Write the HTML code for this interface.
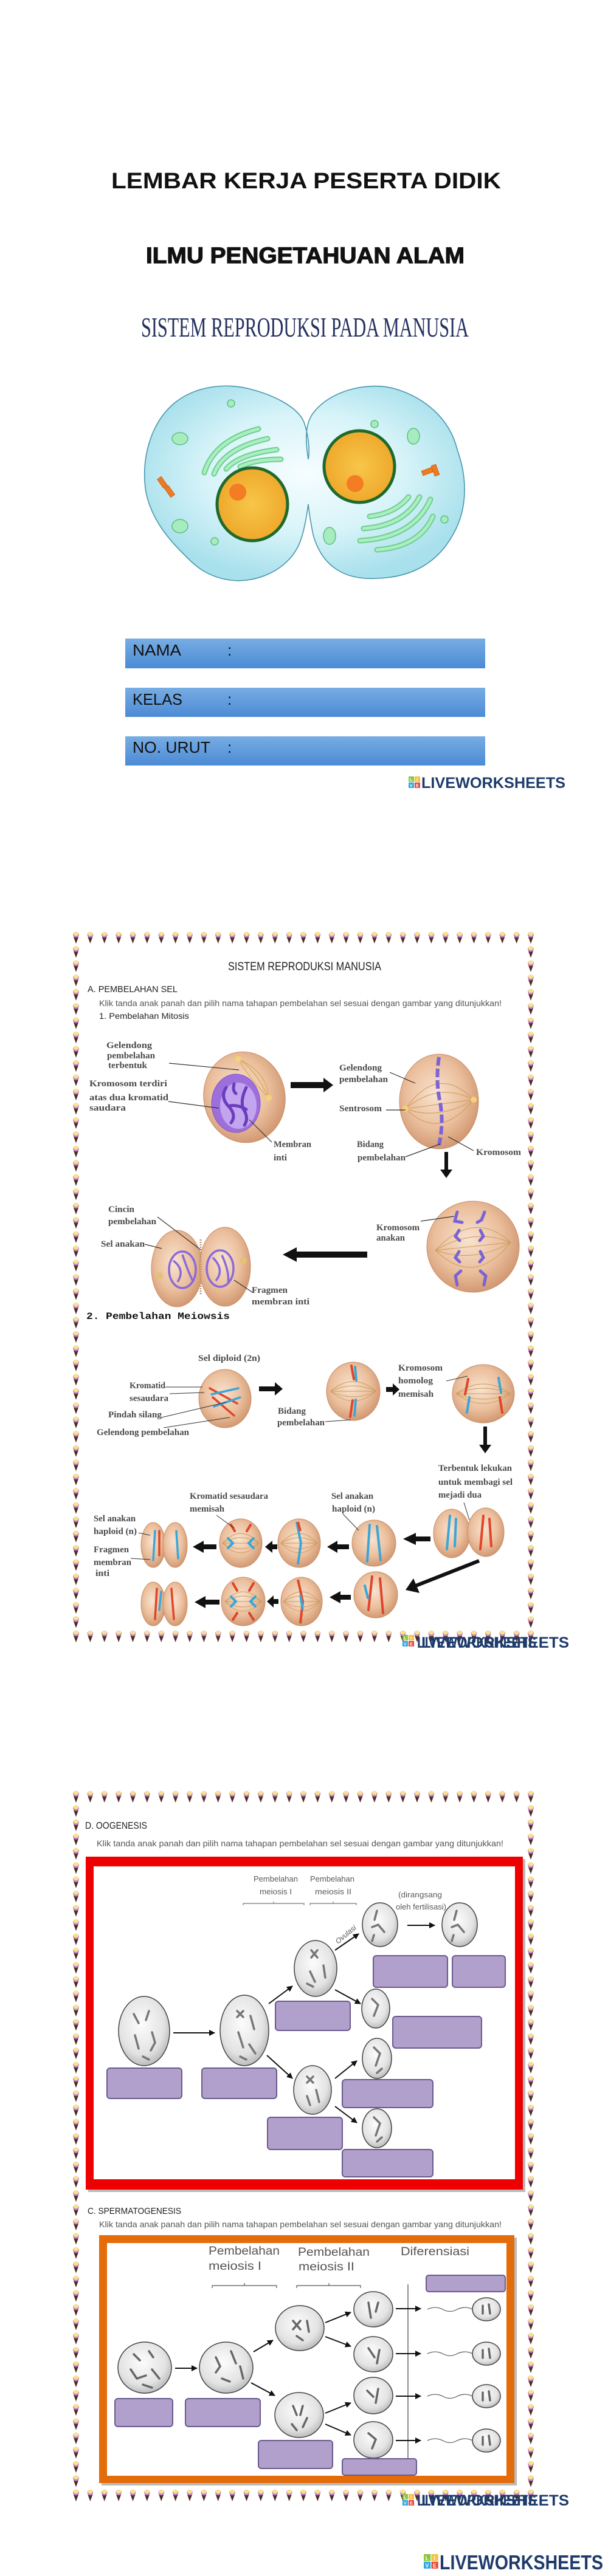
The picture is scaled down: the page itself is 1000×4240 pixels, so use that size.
<!DOCTYPE html>
<html><head><meta charset="utf-8"><style>
html,body{margin:0;padding:0;background:#fff;}
svg{display:block;}
text{font-family:"Liberation Sans",sans-serif;}
.sf{font-family:"Liberation Serif",serif;fill:#4a4a4a;font-weight:bold;font-size:15px;}
.og{font-family:"Liberation Sans",sans-serif;fill:#5a5a5a;font-size:13px;}
.ins{font-family:"Liberation Sans",sans-serif;fill:#555;font-size:14px;}
</style></head><body>
<svg width="1000" height="4240" viewBox="0 0 1000 4240" xmlns="http://www.w3.org/2000/svg">
<defs>
 <radialGradient id="cb" cx="50%" cy="45%" r="55%"><stop offset="0" stop-color="#f6fdff"/><stop offset="0.55" stop-color="#d8f4f9"/><stop offset="1" stop-color="#a8e0ec"/></radialGradient>
 <radialGradient id="nuc" cx="50%" cy="50%" r="50%"><stop offset="0" stop-color="#f8c64a"/><stop offset="1" stop-color="#eea92c"/></radialGradient>
 <linearGradient id="bx" x1="0" y1="0" x2="0" y2="1"><stop offset="0" stop-color="#78ade3"/><stop offset="1" stop-color="#4b8ad5"/></linearGradient>
 <radialGradient id="tan" cx="45%" cy="42%" r="60%"><stop offset="0" stop-color="#f8e3d0"/><stop offset="0.6" stop-color="#ebbf9d"/><stop offset="1" stop-color="#d09670"/></radialGradient>
 <radialGradient id="gr" cx="45%" cy="40%" r="62%"><stop offset="0" stop-color="#fcfcfc"/><stop offset="0.7" stop-color="#e3e3e3"/><stop offset="1" stop-color="#b9b9b9"/></radialGradient>
 <g id="cone"><path d="M1 9 L9 9 L5 20 Z" fill="#4b2a28"/><circle cx="5" cy="5.6" r="4.8" fill="#c77bc4"/><ellipse cx="5" cy="4.2" rx="4" ry="3.4" fill="#f4e58a"/></g>
 <pattern id="pH" patternUnits="userSpaceOnUse" width="23.375" height="1150"><use href="#cone"/></pattern>
 <pattern id="pV" patternUnits="userSpaceOnUse" width="748" height="23.47"><use href="#cone"/></pattern>
 <marker id="ma" viewBox="0 0 10 10" refX="9" refY="5" markerWidth="5" markerHeight="5" orient="auto"><path d="M0 0 L10 5 L0 10 z" fill="#111"/></marker>
 <g id="lwi">
  <rect x="0" y="0" width="9" height="9" fill="#8cc63f"/><rect x="10" y="0" width="9" height="9" fill="#f5c242"/>
  <rect x="0" y="10" width="9" height="9" fill="#2aa8e0"/><rect x="10" y="10" width="9" height="9" fill="#e8473f"/>
  <text x="2" y="7.5" font-size="7" fill="#fff" font-weight="bold">L</text><text x="13" y="7.5" font-size="7" fill="#fff" font-weight="bold">I</text>
  <text x="2" y="17.5" font-size="7" fill="#fff" font-weight="bold">V</text><text x="12" y="17.5" font-size="7" fill="#fff" font-weight="bold">E</text>
 </g>
 <g id="spin" fill="none" stroke="#c99c5a" stroke-width="0.9">
  <path d="M-30 0 Q0 -32 30 0"/><path d="M-30 0 Q0 -18 30 0"/><path d="M-30 0 L30 0"/><path d="M-30 0 Q0 18 30 0"/><path d="M-30 0 Q0 32 30 0"/>
 </g>
</defs>

<!-- ================= COVER ================= -->
<text x="183" y="310" font-size="37" font-weight="bold" fill="#111" textLength="641" lengthAdjust="spacingAndGlyphs">LEMBAR KERJA PESERTA DIDIK</text>
<text x="240" y="433" font-size="37" font-weight="bold" fill="#111" stroke="#111" stroke-width="1.2" textLength="524" lengthAdjust="spacingAndGlyphs">ILMU PENGETAHUAN ALAM</text>
<text x="232" y="554" font-size="46" fill="#25315f" style="font-family:'Liberation Serif',serif" textLength="539" lengthAdjust="spacingAndGlyphs">SISTEM REPRODUKSI PADA MANUSIA</text>

<!-- cell -->
<path d="M507 756 C503 730 500 700 515 680 C545 640 610 628 650 640 C700 655 740 690 752 740 C770 790 768 840 745 880 C720 925 680 950 620 952 C570 955 530 935 515 880 C510 855 508 840 507 830 C505 845 500 880 490 900 C470 940 420 960 380 955 C340 950 320 930 305 915 C285 895 250 860 240 810 C232 760 245 700 285 665 C320 635 370 630 410 640 C450 650 490 670 500 695 C507 715 510 740 507 756 Z" fill="url(#cb)" stroke="#4a97ae" stroke-width="1.6"/>
<g fill="none" stroke-linecap="round">
 <g stroke="#6fcf8f" stroke-width="9">
  <path d="M336 778 Q352 725 425 706"/><path d="M352 780 Q368 738 440 722"/><path d="M372 772 Q392 748 455 740"/><path d="M395 768 Q420 756 462 756"/>
  <path d="M592 890 Q680 885 708 822"/><path d="M598 870 Q665 865 690 818"/><path d="M608 850 Q650 845 672 818"/><path d="M620 905 Q690 900 712 850"/>
 </g>
 <g stroke="#aaeec2" stroke-width="5">
  <path d="M336 778 Q352 725 425 706"/><path d="M352 780 Q368 738 440 722"/><path d="M372 772 Q392 748 455 740"/><path d="M395 768 Q420 756 462 756"/>
  <path d="M592 890 Q680 885 708 822"/><path d="M598 870 Q665 865 690 818"/><path d="M608 850 Q650 845 672 818"/><path d="M620 905 Q690 900 712 850"/>
 </g>
</g>
<g fill="#a6ecbf" stroke="#5fbf7f" stroke-width="1.5">
 <ellipse cx="296" cy="722" rx="13" ry="10"/><ellipse cx="296" cy="866" rx="13" ry="11"/><ellipse cx="542" cy="882" rx="10" ry="14"/><ellipse cx="680" cy="718" rx="10" ry="13"/>
 <circle cx="353" cy="891" r="6"/><circle cx="731" cy="855" r="6"/><circle cx="380" cy="664" r="6"/><circle cx="616" cy="698" r="6"/>
</g>
<ellipse cx="415" cy="830" rx="58" ry="60" fill="url(#nuc)" stroke="#1e6a2c" stroke-width="5"/>
<circle cx="391" cy="810" r="14" fill="#f47c22"/>
<ellipse cx="591" cy="768" rx="58" ry="59" fill="url(#nuc)" stroke="#1e6a2c" stroke-width="5"/>
<circle cx="584" cy="796" r="14" fill="#f47c22"/>
<g fill="#ee7a22" stroke="#c85a10" stroke-width="0.8">
 <rect x="263" y="785" width="8" height="18" transform="rotate(-35 267 794)"/><rect x="275" y="800" width="8" height="18" transform="rotate(-35 279 809)"/>
 <rect x="694" y="772" width="18" height="8" transform="rotate(-20 703 776)"/><rect x="712" y="765" width="8" height="18" transform="rotate(-20 716 774)"/>
</g>

<!-- name boxes -->
<rect x="206" y="1051" width="592" height="49" fill="url(#bx)"/>
<rect x="206" y="1132" width="592" height="48" fill="url(#bx)"/>
<rect x="206" y="1212" width="592" height="48" fill="url(#bx)"/>
<g font-size="26" fill="#111">
 <text x="218" y="1079" textLength="80" lengthAdjust="spacingAndGlyphs">NAMA</text><text x="374" y="1079">:</text>
 <text x="218" y="1160" textLength="82" lengthAdjust="spacingAndGlyphs">KELAS</text><text x="374" y="1160">:</text>
 <text x="218" y="1239" textLength="128" lengthAdjust="spacingAndGlyphs">NO. URUT</text><text x="374" y="1239">:</text>
</g>
<use href="#lwi" x="672" y="1278"/>
<text x="693" y="1297" font-size="25" font-weight="bold" fill="#1e3b6b" textLength="237" lengthAdjust="spacingAndGlyphs">LIVEWORKSHEETS</text>

<!-- ================= PAGE 2 ================= -->
<g transform="translate(120,1533)">
 <rect x="0" y="0" width="760" height="1172" fill="url(#pH)"/>
 <rect x="0" y="0" width="760" height="1172" fill="url(#pV)"/>
</g>
<text x="375" y="1597" font-size="19" fill="#222" textLength="252" lengthAdjust="spacingAndGlyphs">SISTEM REPRODUKSI MANUSIA</text>
<text x="144" y="1633" font-size="15" fill="#222" textLength="148" lengthAdjust="spacingAndGlyphs">A. PEMBELAHAN SEL</text>
<text x="163" y="1656" class="ins" textLength="662" lengthAdjust="spacingAndGlyphs">Klik tanda anak panah dan pilih nama tahapan pembelahan sel sesuai dengan gambar yang ditunjukkan!</text>
<text x="163" y="1677" font-size="14" fill="#222" textLength="148" lengthAdjust="spacingAndGlyphs">1.  Pembelahan Mitosis</text>

<!-- mitosis cell 1 -->
<ellipse cx="402" cy="1806" rx="67" ry="75" transform="rotate(-10 402 1806)" fill="url(#tan)" stroke="#c98f68"/>
<g fill="none" stroke="#d9a851" stroke-width="1.2"><path d="M392 1743 Q420 1760 442 1807"/><path d="M392 1743 Q440 1765 442 1807"/><path d="M392 1743 Q410 1775 442 1807"/></g>
<circle cx="392" cy="1743" r="5" fill="#f3d27a"/><circle cx="442" cy="1807" r="5" fill="#f3d27a"/>
<ellipse cx="388" cy="1816" rx="40" ry="48" fill="#9d6fdc" stroke="#8056c7"/>
<ellipse cx="392" cy="1820" rx="30" ry="38" fill="#c3a4ee"/>
<g fill="none" stroke="#6a3dbe" stroke-width="5" stroke-linecap="round"><path d="M372 1790 Q362 1805 375 1820 Q390 1835 380 1848"/><path d="M405 1790 Q395 1810 400 1825 Q410 1840 402 1852"/><path d="M378 1820 Q392 1818 405 1826"/><path d="M385 1784 Q382 1795 388 1800"/></g>
<g stroke="#333" stroke-width="1.2"><line x1="278" y1="1750" x2="393" y2="1761"/><line x1="277" y1="1813" x2="360" y2="1824"/><line x1="410" y1="1843" x2="447" y2="1880"/></g>
<text class="sf" x="175" y="1725" textLength="75" lengthAdjust="spacingAndGlyphs">Gelendong</text>
<text class="sf" x="176" y="1742" textLength="79" lengthAdjust="spacingAndGlyphs">pembelahan</text>
<text class="sf" x="178" y="1758" textLength="64" lengthAdjust="spacingAndGlyphs">terbentuk</text>
<text class="sf" x="147" y="1788" textLength="128" lengthAdjust="spacingAndGlyphs">Kromosom  terdiri</text>
<text class="sf" x="147" y="1811" textLength="130" lengthAdjust="spacingAndGlyphs">atas  dua kromatid</text>
<text class="sf" x="147" y="1828" textLength="60" lengthAdjust="spacingAndGlyphs">saudara</text>
<text class="sf" x="450" y="1888" textLength="62" lengthAdjust="spacingAndGlyphs">Membran</text>
<text class="sf" x="450" y="1910" textLength="22" lengthAdjust="spacingAndGlyphs">inti</text>
<polygon points="478,1781 532,1781 532,1774 548,1786 532,1798 532,1791 478,1791" fill="#111"/>

<!-- mitosis cell 2 -->
<ellipse cx="722" cy="1813" rx="65" ry="78" fill="url(#tan)" stroke="#c98f68"/>
<g fill="none" stroke="#c99c5a" stroke-width="1"><path d="M667 1825 Q720 1750 779 1810"/><path d="M667 1825 Q720 1780 779 1810"/><path d="M667 1825 L779 1810"/><path d="M667 1825 Q722 1845 779 1810"/><path d="M667 1825 Q722 1880 779 1810"/></g>
<circle cx="667" cy="1825" r="5" fill="#f3d27a"/><circle cx="779" cy="1810" r="5" fill="#f3d27a"/>
<path d="M722 1740 Q716 1780 724 1815 Q730 1850 722 1885" fill="none" stroke="#7d64d6" stroke-width="6" stroke-dasharray="14 5"/>
<g stroke="#333" stroke-width="1.2"><line x1="641" y1="1765" x2="683" y2="1783"/><line x1="635" y1="1827" x2="667" y2="1827"/><line x1="667" y1="1904" x2="724" y2="1883"/><line x1="779" y1="1894" x2="737" y2="1871"/></g>
<text class="sf" x="558" y="1762" textLength="70" lengthAdjust="spacingAndGlyphs">Gelendong</text>
<text class="sf" x="558" y="1781" textLength="80" lengthAdjust="spacingAndGlyphs">pembelahan</text>
<text class="sf" x="558" y="1829" textLength="70" lengthAdjust="spacingAndGlyphs">Sentrosom</text>
<text class="sf" x="587" y="1888" textLength="44" lengthAdjust="spacingAndGlyphs">Bidang</text>
<text class="sf" x="588" y="1910" textLength="79" lengthAdjust="spacingAndGlyphs">pembelahan</text>
<text class="sf" x="783" y="1901" textLength="74" lengthAdjust="spacingAndGlyphs">Kromosom</text>
<polygon points="731,1896 737,1896 737,1925 744,1925 734,1939 724,1925 731,1925" fill="#111"/>

<!-- anaphase -->
<ellipse cx="778" cy="2052" rx="76" ry="75" fill="url(#tan)" stroke="#c98f68"/>
<g fill="none" stroke="#c99c5a" stroke-width="1"><path d="M716 2058 Q780 1990 840 2045"/><path d="M716 2058 Q780 2020 840 2045"/><path d="M716 2058 L840 2045"/><path d="M716 2058 Q780 2080 840 2045"/><path d="M716 2058 Q780 2120 840 2045"/></g>
<g fill="none" stroke="#7a63d4" stroke-width="5" stroke-linecap="round">
 <path d="M752 1995 L748 2010 L760 2012"/><path d="M797 1995 L792 2008 L785 2012"/>
 <path d="M755 2025 L749 2035 L756 2042"/><path d="M790 2025 L795 2035 L789 2042"/>
 <path d="M755 2060 L749 2070 L756 2077"/><path d="M790 2060 L795 2070 L789 2077"/>
 <path d="M758 2092 L749 2100 L752 2115"/><path d="M790 2092 L799 2100 L796 2115"/>
</g>
<line x1="692" y1="2010" x2="747" y2="2002" stroke="#333" stroke-width="1.2"/>
<text class="sf" x="619" y="2025" textLength="71" lengthAdjust="spacingAndGlyphs">Kromosom</text>
<text class="sf" x="619" y="2042" textLength="47" lengthAdjust="spacingAndGlyphs">anakan</text>
<polygon points="604,2060 488,2060 488,2053 465,2065 488,2077 488,2070 604,2070" fill="#111"/>

<!-- telophase -->
<ellipse cx="291" cy="2088" rx="42" ry="63" fill="url(#tan)" stroke="#c98f68"/>
<ellipse cx="370" cy="2085" rx="42" ry="65" fill="url(#tan)" stroke="#c98f68"/>
<line x1="330" y1="2040" x2="330" y2="2130" stroke="#c98f68" stroke-width="3" stroke-dasharray="2 2"/>
<g fill="none" stroke="#8a6ad8" stroke-width="3.5">
 <ellipse cx="300" cy="2090" rx="22" ry="30"/><ellipse cx="362" cy="2088" rx="22" ry="30"/>
 <path d="M285 2075 Q305 2090 292 2110 M300 2065 Q310 2095 318 2110 M350 2070 Q370 2090 355 2108 M365 2066 Q378 2095 375 2112"/>
</g>
<circle cx="262" cy="2100" r="6" fill="#e6c07a"/><circle cx="400" cy="2075" r="6" fill="#e6c07a"/>
<g stroke="#333" stroke-width="1.2"><line x1="259" y1="2003" x2="330" y2="2057"/><line x1="238" y1="2048" x2="266" y2="2055"/><line x1="385" y1="2107" x2="415" y2="2127"/></g>
<text class="sf" x="178" y="1995" textLength="43" lengthAdjust="spacingAndGlyphs">Cincin</text>
<text class="sf" x="178" y="2015" textLength="79" lengthAdjust="spacingAndGlyphs">pembelahan</text>
<text class="sf" x="166" y="2052" textLength="72" lengthAdjust="spacingAndGlyphs">Sel anakan</text>
<text class="sf" x="414" y="2128" textLength="59" lengthAdjust="spacingAndGlyphs">Fragmen</text>
<text class="sf" x="414" y="2147" textLength="95" lengthAdjust="spacingAndGlyphs">membran inti</text>

<text x="142" y="2171" font-size="16" font-weight="bold" fill="#111" style="font-family:'Liberation Mono',monospace" textLength="236" lengthAdjust="spacingAndGlyphs">2. Pembelahan Meiowsis</text>

<!-- meiosis row 1 -->
<ellipse cx="370" cy="2302" rx="43" ry="48" fill="url(#tan)" stroke="#c98f68"/>
<g fill="none" stroke-width="3.5" stroke-linecap="round"><path d="M345 2285 L390 2310 M350 2300 L385 2330" stroke="#e0452a"/><path d="M348 2295 L392 2285 M352 2315 L395 2300" stroke="#3aa6d8"/></g>
<ellipse cx="581" cy="2290" rx="44" ry="48" fill="url(#tan)" stroke="#c98f68"/>
<use href="#spin" transform="translate(581 2290) scale(1.25 1)"/>
<g fill="none" stroke-width="4" stroke-linecap="round"><path d="M578 2248 L582 2270 M580 2305 L576 2332" stroke="#e0452a"/><path d="M584 2250 L586 2272 M585 2304 L583 2330" stroke="#3aa6d8"/></g>
<ellipse cx="795" cy="2294" rx="51" ry="48" fill="url(#tan)" stroke="#c98f68"/>
<use href="#spin" transform="translate(795 2294) scale(1.5 1)"/>
<g fill="none" stroke-width="4" stroke-linecap="round"><path d="M770 2270 L765 2295 M822 2300 L826 2325" stroke="#e0452a"/><path d="M772 2300 L768 2325 M820 2268 L824 2292" stroke="#3aa6d8"/></g>
<polygon points="426,2282 452,2282 452,2275 465,2286 452,2297 452,2290 426,2290" fill="#111"/>
<polygon points="635,2283 646,2283 646,2277 657,2287 646,2297 646,2291 635,2291" fill="#111"/>
<polygon points="795,2348 801,2348 801,2378 808,2378 798,2392 788,2378 795,2378" fill="#111"/>
<g stroke="#333" stroke-width="1"><line x1="272" y1="2283" x2="333" y2="2283"/><line x1="279" y1="2294" x2="336" y2="2292"/><line x1="266" y1="2333" x2="372" y2="2308"/><line x1="269" y1="2350" x2="378" y2="2333"/><line x1="535" y1="2340" x2="577" y2="2337"/><line x1="734" y1="2273" x2="769" y2="2265"/><line x1="763" y1="2473" x2="772" y2="2502"/></g>
<text class="sf" x="326" y="2240" textLength="102" lengthAdjust="spacingAndGlyphs">Sel  diploid (2n)</text>
<text class="sf" x="213" y="2285" textLength="59" lengthAdjust="spacingAndGlyphs">Kromatid</text>
<text class="sf" x="213" y="2306" textLength="64" lengthAdjust="spacingAndGlyphs">sesaudara</text>
<text class="sf" x="178" y="2333" textLength="88" lengthAdjust="spacingAndGlyphs">Pindah silang</text>
<text class="sf" x="159" y="2362" textLength="152" lengthAdjust="spacingAndGlyphs">Gelendong pembelahan</text>
<text class="sf" x="457" y="2327" textLength="46" lengthAdjust="spacingAndGlyphs">Bidang</text>
<text class="sf" x="456" y="2346" textLength="78" lengthAdjust="spacingAndGlyphs">pembelahan</text>
<text class="sf" x="655" y="2256" textLength="73" lengthAdjust="spacingAndGlyphs">Kromosom</text>
<text class="sf" x="655" y="2277" textLength="57" lengthAdjust="spacingAndGlyphs">homolog</text>
<text class="sf" x="655" y="2299" textLength="58" lengthAdjust="spacingAndGlyphs">memisah</text>
<text class="sf" x="721" y="2421" textLength="121" lengthAdjust="spacingAndGlyphs">Terbentuk lekukan</text>
<text class="sf" x="721" y="2444" textLength="122" lengthAdjust="spacingAndGlyphs">untuk membagi sel</text>
<text class="sf" x="721" y="2465" textLength="71" lengthAdjust="spacingAndGlyphs">mejadi dua</text>

<!-- meiosis row 2 -->
<ellipse cx="743" cy="2524" rx="30" ry="40" fill="url(#tan)" stroke="#c98f68"/>
<ellipse cx="799" cy="2522" rx="30" ry="40" fill="url(#tan)" stroke="#c98f68"/>
<g fill="none" stroke-width="4" stroke-linecap="round"><path d="M740 2495 L735 2550 M750 2500 L748 2545" stroke="#3aa6d8"/><path d="M795 2495 L790 2550 M805 2500 L808 2545" stroke="#e0452a"/></g>
<ellipse cx="615" cy="2540" rx="36" ry="38" fill="url(#tan)" stroke="#c98f68"/>
<g fill="none" stroke-width="4" stroke-linecap="round"><path d="M608 2510 L604 2570 M620 2512 L626 2568" stroke="#3aa6d8"/></g>
<ellipse cx="492" cy="2540" rx="35" ry="40" fill="url(#tan)" stroke="#c98f68"/>
<use href="#spin" transform="translate(492 2540)"/>
<path d="M488 2505 L495 2540 L490 2575" fill="none" stroke="#3aa6d8" stroke-width="4"/><path d="M490 2505 L494 2520" stroke="#e0452a" stroke-width="4"/>
<ellipse cx="396" cy="2540" rx="35" ry="40" fill="url(#tan)" stroke="#c98f68"/>
<use href="#spin" transform="translate(396 2540)"/>
<g fill="none" stroke-width="4" stroke-linecap="round"><path d="M375 2532 L383 2540 L375 2548 M417 2532 L409 2540 L417 2548" stroke="#3aa6d8"/><path d="M380 2510 L386 2520 M412 2510 L406 2520" stroke="#e0452a"/></g>
<ellipse cx="252" cy="2543" rx="20" ry="37" fill="url(#tan)" stroke="#c98f68"/>
<ellipse cx="288" cy="2543" rx="20" ry="37" fill="url(#tan)" stroke="#c98f68"/>
<g fill="none" stroke-width="3.5" stroke-linecap="round"><path d="M255 2520 L252 2568 M290 2520 L293 2565" stroke="#3aa6d8"/><path d="M262 2520 L262 2560" stroke="#e0452a"/></g>
<g fill="#111">
 <polygon points="708,2529 684,2529 684,2523 663,2533 684,2543 684,2537 708,2537"/>
 <polygon points="574,2542 555,2542 555,2536 538,2546 555,2556 555,2550 574,2550"/>
 <polygon points="456,2542 448,2542 448,2536 436,2546 448,2556 448,2550 456,2550"/>
 <polygon points="356,2542 335,2542 335,2536 317,2546 335,2556 335,2550 356,2550"/>
</g>
<g stroke="#333" stroke-width="1"><line x1="356" y1="2494" x2="385" y2="2515"/><line x1="564" y1="2492" x2="590" y2="2519"/><line x1="228" y1="2523" x2="247" y2="2527"/><line x1="215" y1="2565" x2="247" y2="2567"/></g>
<text class="sf" x="312" y="2467" textLength="129" lengthAdjust="spacingAndGlyphs">Kromatid sesaudara</text>
<text class="sf" x="312" y="2488" textLength="57" lengthAdjust="spacingAndGlyphs">memisah</text>
<text class="sf" x="545" y="2467" textLength="69" lengthAdjust="spacingAndGlyphs">Sel anakan</text>
<text class="sf" x="546" y="2488" textLength="71" lengthAdjust="spacingAndGlyphs">haploid (n)</text>
<text class="sf" x="154" y="2504" textLength="69" lengthAdjust="spacingAndGlyphs">Sel anakan</text>
<text class="sf" x="154" y="2525" textLength="71" lengthAdjust="spacingAndGlyphs">haploid (n)</text>
<text class="sf" x="154" y="2555" textLength="58" lengthAdjust="spacingAndGlyphs">Fragmen</text>
<text class="sf" x="154" y="2576" textLength="62" lengthAdjust="spacingAndGlyphs">membran</text>
<text class="sf" x="157" y="2594" textLength="23" lengthAdjust="spacingAndGlyphs">inti</text>

<!-- meiosis row 3 -->
<ellipse cx="618" cy="2625" rx="36" ry="38" fill="url(#tan)" stroke="#c98f68"/>
<g fill="none" stroke-width="4" stroke-linecap="round"><path d="M612 2595 L606 2650 M625 2598 L630 2655" stroke="#e0452a"/><path d="M600 2610 L605 2630" stroke="#3aa6d8"/></g>
<ellipse cx="496" cy="2636" rx="34" ry="40" fill="url(#tan)" stroke="#c98f68"/>
<use href="#spin" transform="translate(496 2636)"/>
<path d="M490 2600 L498 2636 L494 2672" fill="none" stroke="#e0452a" stroke-width="4"/><path d="M494 2625 L498 2650" stroke="#3aa6d8" stroke-width="4"/>
<ellipse cx="400" cy="2636" rx="36" ry="40" fill="url(#tan)" stroke="#c98f68"/>
<use href="#spin" transform="translate(400 2636)"/>
<g fill="none" stroke-width="4" stroke-linecap="round"><path d="M380 2628 L388 2636 L380 2644 M420 2628 L412 2636 L420 2644" stroke="#3aa6d8"/><path d="M383 2606 L390 2618 M417 2606 L410 2618 M383 2666 L390 2655 M417 2666 L410 2655" stroke="#e0452a"/></g>
<ellipse cx="252" cy="2640" rx="20" ry="36" fill="url(#tan)" stroke="#c98f68"/>
<ellipse cx="288" cy="2640" rx="20" ry="36" fill="url(#tan)" stroke="#c98f68"/>
<g fill="none" stroke-width="3.5" stroke-linecap="round"><path d="M258 2615 L255 2665 M282 2615 L286 2665" stroke="#e0452a"/><path d="M265 2620 L262 2650" stroke="#3aa6d8"/></g>
<g fill="#111">
 <polygon points="577,2625 560,2625 560,2619 542,2629 560,2639 560,2633 577,2633"/>
 <polygon points="458,2632 450,2632 450,2626 439,2636 450,2646 450,2640 458,2640"/>
 <polygon points="361,2633 338,2633 338,2627 320,2637 338,2647 338,2641 361,2641"/>
</g>
<line x1="788" y1="2569" x2="684" y2="2610" stroke="#111" stroke-width="6"/>
<polygon points="667,2617 680,2598 690,2622" fill="#111"/>

<use href="#lwi" x="662" y="2691"/>
<text x="693" y="2712" font-size="25" font-weight="bold" fill="#1e3b6b" textLength="243" lengthAdjust="spacingAndGlyphs">LIVEWORKSHEETS</text>
<text x="686" y="2712" font-size="25" font-weight="bold" fill="#1e3b6b" textLength="196" lengthAdjust="spacingAndGlyphs">LIVEWORKSHEETS</text>

<!-- ================= PAGE 3 ================= -->
<g transform="translate(120,2947)">
 <rect x="0" y="0" width="760" height="1172" fill="url(#pH)"/>
 <rect x="0" y="0" width="760" height="1172" fill="url(#pV)"/>
</g>
<text x="140" y="3010" font-size="16" fill="#222" textLength="102" lengthAdjust="spacingAndGlyphs">D. OOGENESIS</text>
<text x="159" y="3039" class="ins" font-size="15" textLength="669" lengthAdjust="spacingAndGlyphs">Klik tanda anak panah dan pilih nama tahapan pembelahan sel sesuai dengan gambar yang ditunjukkan!</text>

<!-- red frame -->
<rect x="145" y="3060" width="719" height="548" fill="#bbb"/>
<rect x="141" y="3056" width="719" height="548" fill="#ee0000"/>
<rect x="154" y="3072" width="693" height="515" fill="#fff"/>

<text class="og" x="417" y="3097" textLength="73" lengthAdjust="spacingAndGlyphs">Pembelahan</text>
<text class="og" x="427" y="3118" textLength="53" lengthAdjust="spacingAndGlyphs">meiosis I</text>
<text class="og" x="510" y="3097" textLength="73" lengthAdjust="spacingAndGlyphs">Pembelahan</text>
<text class="og" x="518" y="3118" textLength="60" lengthAdjust="spacingAndGlyphs">meiosis II</text>
<text class="og" x="655" y="3123" textLength="72" lengthAdjust="spacingAndGlyphs">(dirangsang</text>
<text class="og" x="651" y="3143" textLength="83" lengthAdjust="spacingAndGlyphs">oleh fertilisasi)</text>
<g fill="none" stroke="#777" stroke-width="1.2"><path d="M400 3136 L400 3133 L500 3133 L500 3136 M450 3133 L450 3130"/><path d="M510 3136 L510 3133 L586 3133 L586 3136 M548 3133 L548 3130"/></g>

<g fill="url(#gr)" stroke="#444" stroke-width="1.5">
 <ellipse cx="625" cy="3168" rx="29" ry="36"/><ellipse cx="756" cy="3168" rx="29" ry="36"/>
 <ellipse cx="519" cy="3240" rx="35" ry="46"/><ellipse cx="618" cy="3306" rx="23" ry="32"/>
 <ellipse cx="237" cy="3343" rx="42" ry="57"/><ellipse cx="402" cy="3342" rx="40" ry="58"/>
 <ellipse cx="514" cy="3440" rx="31" ry="40"/><ellipse cx="620" cy="3388" rx="24" ry="33"/><ellipse cx="620" cy="3503" rx="24" ry="32"/>
</g>
<g fill="none" stroke="#777" stroke-width="3.5" stroke-linecap="round">
 <path d="M620 3145 L616 3160 M612 3172 L622 3168 L632 3180 M615 3185 L612 3195"/>
 <path d="M751 3145 L747 3160 M743 3172 L753 3168 L763 3180 M746 3185 L743 3195"/>
 <path d="M512 3210 L522 3222 M522 3210 L512 3222 M532 3235 L535 3255 M510 3245 L518 3262 M505 3265 L515 3270"/>
 <path d="M612 3290 L622 3300 L615 3318"/>
 <path d="M220 3315 L228 3330 M245 3310 L240 3325 M222 3350 L228 3372 M250 3345 L255 3362 L248 3375 M235 3385 L245 3390"/>
 <path d="M390 3310 L400 3320 M400 3310 L390 3320 M412 3318 L418 3340 M392 3345 L400 3370 M410 3365 L420 3380 M395 3385 L405 3390"/>
 <path d="M505 3418 L515 3428 M515 3418 L505 3428 M520 3440 L525 3460 M505 3450 L510 3465"/>
 <path d="M615 3370 L625 3380 L618 3400 M628 3405 L620 3412"/>
 <path d="M615 3485 L625 3495 L618 3515 M628 3518 L620 3525"/>
</g>
<g stroke="#111" stroke-width="2" marker-end="url(#ma)">
 <line x1="670" y1="3169" x2="715" y2="3169"/>
 <line x1="551" y1="3210" x2="590" y2="3183"/>
 <line x1="551" y1="3275" x2="593" y2="3298"/>
 <line x1="442" y1="3298" x2="481" y2="3269"/>
 <line x1="285" y1="3346" x2="353" y2="3346"/>
 <line x1="439" y1="3383" x2="481" y2="3421"/>
 <line x1="551" y1="3421" x2="587" y2="3392"/>
 <line x1="551" y1="3467" x2="587" y2="3494"/>
</g>
<text x="556" y="3200" font-size="12" font-style="italic" fill="#555" transform="rotate(-40 556 3200)">Ovulasi</text>
<g fill="#b1a0cb" stroke="#6a5a8e" stroke-width="2">
 <rect x="614" y="3219" width="122" height="52" rx="5"/><rect x="744" y="3219" width="87" height="52" rx="5"/>
 <rect x="453" y="3294" width="123" height="48" rx="5"/><rect x="646" y="3319" width="146" height="52" rx="5"/>
 <rect x="176" y="3404" width="123" height="50" rx="5"/><rect x="332" y="3404" width="123" height="50" rx="5"/>
 <rect x="563" y="3423" width="149" height="46" rx="5"/><rect x="440" y="3485" width="123" height="53" rx="5"/>
 <rect x="563" y="3538" width="149" height="45" rx="5"/>
</g>

<!-- spermatogenesis -->
<text x="144" y="3644" font-size="15" fill="#222" textLength="154" lengthAdjust="spacingAndGlyphs">C. SPERMATOGENESIS</text>
<text x="163" y="3666" class="ins" textLength="662" lengthAdjust="spacingAndGlyphs">Klik tanda anak panah dan pilih nama tahapan pembelahan sel sesuai dengan gambar yang ditunjukkan!</text>
<rect x="167" y="3683" width="683" height="408" fill="#bbb"/>
<rect x="163" y="3679" width="683" height="408" fill="#e46c0a"/>
<rect x="176" y="3692" width="657" height="383" fill="#fff"/>

<g font-size="19" fill="#555">
 <text x="343" y="3711" textLength="117" lengthAdjust="spacingAndGlyphs">Pembelahan</text>
 <text x="343" y="3736" textLength="87" lengthAdjust="spacingAndGlyphs">meiosis I</text>
 <text x="490" y="3713" textLength="118" lengthAdjust="spacingAndGlyphs">Pembelahan</text>
 <text x="491" y="3737" textLength="92" lengthAdjust="spacingAndGlyphs">meiosis II</text>
 <text x="659" y="3712" textLength="113" lengthAdjust="spacingAndGlyphs">Diferensiasi</text>
</g>
<g fill="none" stroke="#555" stroke-width="1.2"><path d="M349 3766 L349 3762 L455 3762 L455 3766 M402 3762 L402 3758"/><path d="M488 3766 L488 3762 L593 3762 L593 3766 M541 3762 L541 3758"/></g>
<line x1="671" y1="3760" x2="671" y2="4047" stroke="#444" stroke-width="1.2"/>
<g fill="url(#gr)" stroke="#444" stroke-width="1.5">
 <ellipse cx="238" cy="3897" rx="44" ry="42"/><ellipse cx="372" cy="3897" rx="44" ry="42"/>
 <ellipse cx="493" cy="3832" rx="40" ry="37"/><ellipse cx="492" cy="3975" rx="40" ry="37"/>
 <ellipse cx="614" cy="3801" rx="32" ry="29"/><ellipse cx="614" cy="3875" rx="32" ry="29"/>
 <ellipse cx="614" cy="3943" rx="32" ry="30"/><ellipse cx="614" cy="4016" rx="32" ry="30"/>
 <ellipse cx="800" cy="3801" rx="23" ry="19"/><ellipse cx="800" cy="3874" rx="23" ry="19"/>
 <ellipse cx="800" cy="3944" rx="23" ry="19"/><ellipse cx="800" cy="4017" rx="23" ry="19"/>
</g>
<g fill="none" stroke="#666" stroke-width="1.3">
 <path d="M777 3801 Q765 3795 752 3801 Q740 3808 728 3801 Q716 3795 703 3801"/>
 <path d="M777 3874 Q765 3868 752 3874 Q740 3881 728 3874 Q716 3868 703 3874"/>
 <path d="M777 3944 Q765 3938 752 3944 Q740 3951 728 3944 Q716 3938 703 3944"/>
 <path d="M777 4017 Q765 4011 752 4017 Q740 4024 728 4017 Q716 4011 703 4017"/>
</g>
<g fill="none" stroke="#666" stroke-width="3.5" stroke-linecap="round">
 <path d="M220 3875 L230 3885 M245 3870 L252 3880 M215 3900 L225 3915 L240 3910 M250 3900 L262 3915 M235 3925 L250 3930"/>
 <path d="M355 3880 L362 3895 L355 3905 M380 3870 L388 3890 M365 3915 L378 3920 M395 3895 L400 3915"/>
 <path d="M482 3820 L494 3834 M494 3820 L482 3834 M505 3820 L508 3838 M488 3845 L498 3852"/>
 <path d="M482 3960 L488 3975 M498 3960 L494 3975 M505 3980 L498 3995 M480 3990 L488 4000"/>
 <path d="M606 3790 L610 3815 M622 3790 L618 3805"/><path d="M606 3865 L616 3880 M624 3868 L620 3890"/>
 <path d="M604 3935 L614 3945 M622 3932 L618 3955"/><path d="M606 4005 L618 4015 L612 4030"/>
 <path d="M794 3795 L794 3808 M804 3793 L806 3808"/><path d="M794 3868 L794 3881 M804 3866 L806 3881"/>
 <path d="M794 3938 L794 3951 M804 3936 L806 3951"/><path d="M794 4011 L794 4024 M804 4009 L806 4024"/>
</g>
<g stroke="#111" stroke-width="2" marker-end="url(#ma)">
 <line x1="288" y1="3898" x2="324" y2="3898"/>
 <line x1="417" y1="3871" x2="449" y2="3852"/>
 <line x1="413" y1="3922" x2="452" y2="3943"/>
 <line x1="535" y1="3823" x2="577" y2="3806"/>
 <line x1="535" y1="3846" x2="577" y2="3862"/>
 <line x1="535" y1="3972" x2="577" y2="3955"/>
 <line x1="535" y1="3990" x2="577" y2="4008"/>
 <line x1="651" y1="3800" x2="692" y2="3800"/>
 <line x1="651" y1="3874" x2="692" y2="3874"/>
 <line x1="651" y1="3944" x2="692" y2="3944"/>
 <line x1="651" y1="4017" x2="692" y2="4017"/>
</g>
<g fill="#b1a0cb" stroke="#6a5a8e" stroke-width="2">
 <rect x="701" y="3745" width="130" height="27" rx="4"/>
 <rect x="189" y="3948" width="95" height="46" rx="5"/><rect x="305" y="3948" width="123" height="46" rx="5"/>
 <rect x="425" y="4017" width="122" height="46" rx="5"/><rect x="563" y="4047" width="122" height="27" rx="4"/>
</g>

<use href="#lwi" x="662" y="4105"/>
<text x="693" y="4124" font-size="25" font-weight="bold" fill="#1e3b6b" textLength="243" lengthAdjust="spacingAndGlyphs">LIVEWORKSHEETS</text>
<text x="686" y="4124" font-size="25" font-weight="bold" fill="#1e3b6b" textLength="196" lengthAdjust="spacingAndGlyphs">LIVEWORKSHEETS</text>

<!-- final logo -->
<g transform="translate(697 4204) scale(1.25)"><use href="#lwi"/></g>
<text x="723" y="4229" font-size="33" font-weight="bold" fill="#1e3b6b" textLength="269" lengthAdjust="spacingAndGlyphs">LIVEWORKSHEETS</text>
</svg>
</body></html>
